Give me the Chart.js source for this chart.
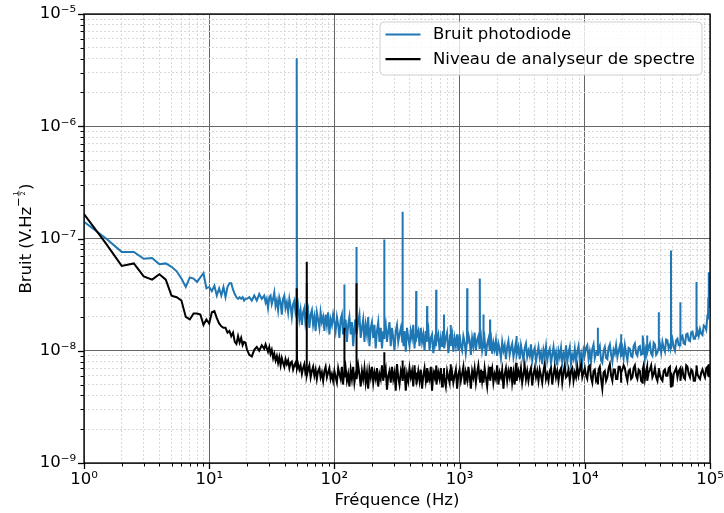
<!DOCTYPE html>
<html>
<head>
<meta charset="utf-8">
<script src="https://cdn.jsdelivr.net/npm/chart.js@4.4.1/dist/chart.umd.min.js"></script>
<style>
  html, body { margin: 0; padding: 0; background: #fff; }
  #noise { display: block; }
</style>
</head>
<body>
<canvas id="noise" width="724" height="513"></canvas>
<script>
// Noise spectral density, photodiode vs. spectrum-analyser floor (log-log).
// Values in nV/sqrt(Hz), one block per decade;
// the mains line and its harmonics are kept as their own points.

// 1 - 20 Hz, at the analyser's 0.5 Hz step
const lowFreqHz = [
  1, 1.5, 2, 2.5, 3, 3.5, 4, 4.5, 5, 5.5, 6, 6.5, 7, 7.5, 8, 8.5, 9, 9.5, 10, 10.5,
  11, 11.5, 12, 12.5, 13, 13.5, 14, 14.5, 15, 15.5, 16, 16.5, 17, 17.5, 18, 18.5, 19, 19.5, 20,
];
const lowPhotodiodeNV = [
  141, 100, 76, 76, 66, 67, 59, 60, 56, 51, 44, 37, 45, 44, 41, 45, 49, 36, 37, 34,
  38, 31, 36, 31, 37, 30, 37, 40, 40, 35, 32, 30, 29, 30, 29, 30, 28, 29, 29,
];
const lowAnalyseurNV = [
  165, 90, 57, 60, 46, 43, 48, 43, 31, 30, 28, 20, 19, 21.5, 21.5, 21, 17, 19, 17.5, 22,
  22.5, 19.5, 17.5, 16.5, 16, 16, 14.5, 15, 13.5, 14.5, 12, 11.5, 13.5, 11.8, 13, 11.2, 12, 11.8, 10.3,
];

// 20 - 100 Hz (50 Hz and 60 Hz lines)
const tensFreqHz = [
  20.9, 21.9, 22.9, 24, 25.1, 26.3, 27.5, 28.2, 28.8, 29.5,
  30.2, 30.9, 31.6, 32.4, 33.1, 33.9, 34.7, 35.5, 36.3, 37.2,
  38, 38.9, 39.8, 40.7, 41.7, 42.7, 43.7, 44.7, 45.7, 46.8,
  47.9, 48.9, 49.7, 50, 50.3, 51.3, 52.5, 53.7, 55, 56.2,
  57.5, 58.6, 59.7, 60, 60.3, 61.7, 63.1, 64.6, 66.1, 67.6,
  69.2, 70.8, 72.4, 74.1, 75.9, 77.6, 79.4, 81.3, 83.2, 85.1,
  87.1, 89.1, 91.2, 93.3, 95.5, 97.7,
];
const tensPhotodiodeNV = [
  30, 28, 31, 28, 32, 29, 31, 27, 29, 24,
  30, 31, 26, 29, 33, 25, 28, 23, 30, 27,
  21, 29, 31, 24, 27, 22, 29, 25, 20, 26,
  28, 22, 24, 4030, 21, 25, 19, 23, 17, 22,
  24, 18, 21, 40, 20, 23, 16, 21, 23, 17,
  20, 15, 22, 19, 16, 22, 18, 20, 15, 21,
  17, 22, 14, 19, 17, 21,
];
const tensAnalyseurNV = [
  9.2, 8.9, 10.2, 10.8, 10, 11.2, 10.4, 11.4, 10.6, 9.8,
  10.8, 9.4, 10.2, 8.6, 9.4, 8.2, 9, 7.8, 8.8, 7.4,
  8.6, 7.8, 7.2, 8.4, 7.6, 8.2, 7, 7.8, 8, 6.8,
  7.4, 7.8, 7.2, 36, 7, 7.6, 6.8, 7.4, 6.2, 7,
  7.6, 6.4, 6.8, 62, 6, 6.8, 7.4, 5.8, 6.6, 7.2,
  6, 6.8, 5.6, 6.6, 7, 5.8, 6.4, 5.4, 6.6, 7.2,
  5.8, 6.4, 7, 5.6, 6.2, 5.4,
];

// 100 Hz - 1 kHz (harmonics at 120, 150, 250 ... 850 Hz)
const hundredsFreqHz = [
  100, 102.3, 104.7, 107.2, 109.6, 112.2, 114.8, 117.2, 119.5, 120,
  120.5, 123, 125.9, 128.8, 131.8, 134.9, 138, 141.3, 144.5, 147,
  149.5, 150, 150.5, 154.9, 158.5, 162.2, 166, 169.8, 173.8, 177.8,
  182, 186.2, 190.5, 195, 199.5, 204.2, 208.9, 213.8, 218.8, 223.9,
  229.1, 234.4, 239.9, 245.5, 249, 250, 251, 257, 263, 269.2,
  275.4, 281.8, 288.4, 295.1, 302, 309, 316.2, 323.6, 331.1, 339.6,
  348.5, 350, 351.5, 357, 363.1, 371.5, 380.2, 389, 398.1, 407.4,
  416.9, 426.6, 436.5, 442, 448, 450, 452, 467.7, 478.6, 489.8,
  501.2, 512.9, 524.8, 537, 547.5, 550, 552.5, 563.5, 575.4, 588.8,
  602.6, 616.6, 631, 640, 647, 650, 653, 676.1, 691.8, 707.9,
  724.4, 735, 747, 750, 753, 776.2, 794.3, 812.8, 831.8, 840,
  847, 850, 853, 871, 891.3, 912, 933.3, 955, 977.2,
];
const hundredsPhotodiodeNV = [
  18, 15, 20, 17, 13, 19, 21, 14, 17, 39,
  15, 19, 12, 17, 20, 14, 18, 11, 16, 19,
  15, 84, 14, 18, 21, 13, 16, 19, 12, 17,
  14, 20, 11, 16, 18, 13, 17, 10.5, 15, 18,
  12, 16, 10.5, 15, 13, 98, 14, 17, 12, 15,
  18, 11, 16, 13, 10, 15, 17, 12, 14, 16,
  12, 173, 14, 11, 15, 9.8, 16, 13, 11, 15,
  13, 17, 10.5, 14, 12, 34, 13, 15, 11, 16,
  12, 14, 10, 15, 12, 25, 13, 15, 10, 13,
  14, 9.5, 12, 14, 11, 35, 12, 14, 10, 13,
  11, 15, 12, 21, 10.5, 13, 14.5, 9.5, 12, 14,
  11, 17, 12, 14, 9.8, 13, 11, 14, 10,
];
const hundredsAnalyseurNV = [
  6.6, 5.8, 5.2, 7, 6.2, 5.6, 7.2, 5, 6.4, 16,
  5.8, 7, 5.4, 6.2, 4.8, 6.8, 5.6, 7.2, 5.2, 6,
  6.6, 40, 5.6, 7.4, 6.2, 4.8, 6.6, 5.6, 7, 5.2,
  6.4, 4.6, 6.8, 5.8, 7.2, 5.2, 6.4, 5.6, 7, 4.8,
  6.2, 5.6, 7.4, 5.4, 6.2, 9.7, 5.8, 6.8, 4.5, 6,
  6.6, 5.2, 7.2, 5.6, 6.4, 4.4, 7.6, 5.8, 5, 6.6,
  5.8, 8.2, 5.4, 6.4, 6.8, 4.4, 6.2, 5.4, 7, 5.8,
  6.6, 4.8, 7.4, 6, 5.6, 6.4, 5, 6.6, 5.4, 6.8,
  4.6, 6, 7, 5.4, 6.4, 7, 5.2, 6.2, 5.6, 7.2,
  4.4, 6.4, 5.8, 6.8, 5.4, 7.4, 5, 6.4, 5.6, 7,
  4.8, 6.2, 5.6, 7, 5.8, 4.8, 6.6, 5.8, 5.2, 6.8,
  6, 7.6, 5.4, 6.4, 5.2, 6, 6.8, 4.6, 6.2,
];

// 1 kHz - 10 kHz
const kiloFreqHz = [
  1000, 1023, 1047, 1072, 1096, 1120, 1145, 1150, 1155, 1175,
  1202, 1230, 1259, 1288, 1318, 1349, 1380, 1412, 1444, 1450,
  1456, 1485, 1514, 1545, 1550, 1555, 1585, 1622, 1660, 1700,
  1744, 1750, 1756, 1788, 1820, 1862, 1905, 1950, 1995, 2042,
  2089, 2138, 2188, 2239, 2291, 2344, 2399, 2455, 2512, 2570,
  2630, 2692, 2754, 2800, 2842, 2850, 2858, 2951, 3020, 3090,
  3162, 3236, 3311, 3388, 3467, 3548, 3631, 3715, 3802, 3890,
  3981, 4074, 4169, 4266, 4365, 4467, 4571, 4677, 4786, 4898,
  5012, 5129, 5248, 5370, 5495, 5623, 5754, 5888, 6026, 6166,
  6310, 6457, 6607, 6761, 6918, 7079, 7244, 7413, 7586, 7762,
  7943, 8128, 8318, 8511, 8710, 8913, 9120, 9333, 9550, 9772,
];
const kiloPhotodiodeNV = [
  14, 11, 10, 13.5, 12, 9.5, 12, 36, 11.5, 14,
  12.5, 9.2, 13, 11, 14.5, 10, 12.5, 13.5, 10.5, 44,
  11, 13, 10, 11.5, 21, 10.5, 12.5, 9, 11.5, 12.8,
  10, 19, 11, 12.5, 9.4, 11.8, 10.2, 12.4, 9, 11.6,
  10.4, 8.6, 12, 10, 11.2, 8.4, 10.8, 12.2, 9.2, 10.6,
  11.6, 8.8, 10.2, 11.4, 9.6, 13.5, 9.2, 10.8, 8.4, 11.2,
  9.6, 8.2, 10.6, 11.6, 8.8, 10, 9, 11.4, 8.2, 9.8,
  10.6, 8, 9.4, 10.8, 8.6, 9.6, 7.6, 10.2, 9, 11,
  8.2, 9.6, 10.4, 7.8, 9.2, 10.8, 8.4, 9.6, 7.4, 10,
  8.8, 10.6, 7.8, 9.4, 8.6, 11.2, 8, 9.6, 10.8, 7.6,
  9.2, 8.4, 10.4, 8, 9.8, 11, 8.2, 9.4, 7.8, 10.2,
];
const kiloAnalyseurNV = [
  6.8, 5.4, 6.2, 7.2, 5, 6.4, 5.6, 6.6, 5.2, 7.2,
  6, 4.6, 6.6, 5.8, 7, 5.2, 6.4, 7.4, 5.6, 6,
  5.2, 6.8, 5.4, 6.6, 6.2, 5.2, 7, 5.8, 4.8, 6.6,
  5.6, 7.2, 5.4, 6.4, 7, 5.2, 6.2, 5.6, 7.4, 5,
  6.4, 5.8, 6.8, 4.6, 6.2, 7, 5.4, 6.6, 5.8, 7.2,
  5.2, 6.4, 5, 6.8, 6.2, 7.8, 5.4, 6.6, 5.8, 7,
  5.2, 6.2, 7.4, 5.6, 6.6, 5.4, 6.4, 7, 4.9, 6.2,
  7, 5.8, 6.6, 5.4, 6.8, 6, 5.2, 6.6, 7.6, 5.6,
  6.2, 5.4, 6.6, 7, 5, 6.2, 7.2, 5.8, 6.6, 5.4,
  6.6, 7, 5.2, 6.4, 7.4, 5.8, 6, 6.8, 5.4, 6.6,
  7, 5.4, 6.4, 5.8, 7.2, 6, 6.8, 7.6, 5.8, 6.4,
];

// 10 kHz - 100 kHz
const tenKiloFreqHz = [
  10000, 10230, 10470, 10720, 10960, 11220, 11480, 11750, 12020, 12300,
  12660, 12700, 12740, 12900, 13180, 13490, 13800, 14130, 14450, 14790,
  15140, 15490, 15850, 16220, 16600, 16980, 17380, 17780, 18200, 18620,
  19050, 19460, 19500, 19540, 19950, 20420, 20890, 21380, 21880, 22390,
  22910, 23440, 23990, 24550, 25120, 25700, 26300, 26920, 27540, 28180,
  28950, 29000, 29050, 29510, 30200, 30900, 31450, 31500, 31550, 32360,
  33110, 33880, 34670, 35480, 36310, 37150, 38020, 38950, 39000, 39050,
  39810, 40740, 41690, 42660, 43650, 44670, 45710, 46770, 47860, 48700,
  48800, 48900, 50120, 51290, 52480, 53700, 54950, 56230, 57950, 58000,
  58050, 59160, 60260, 61660, 63100, 64570, 66070, 67610, 69180, 70790,
  72440, 74130, 75860, 77950, 78000, 78050, 79430, 81280, 83180, 85110,
  87100, 89130, 91200, 93330, 95500, 96300, 97000, 97600, 98000, 98500,
  99000, 99500, 100000,
];
const tenKiloPhotodiodeNV = [
  9.2, 10.6, 11.2, 8.4, 9.8, 8, 10.4, 11.4, 8.6, 9.6,
  10, 16, 9, 10.2, 11, 8.2, 7.8, 10, 10.8, 8.6,
  8.4, 10.6, 11.4, 9.2, 8, 10.2, 9.4, 11.2, 8.8, 10,
  11, 9, 14, 9.6, 10.6, 8.6, 11.2, 9.4, 8.2, 10.6,
  10.4, 9, 8.8, 11, 11.6, 9.4, 9, 10.8, 11, 9.2,
  9.4, 13.7, 10, 11.2, 8.6, 10.8, 10.4, 13.7, 9.6, 10.8,
  11.6, 9.4, 9, 11.8, 11.4, 9.2, 9.6, 10.8, 22, 10.2,
  11.4, 9.6, 12, 10.6, 9.8, 12.6, 12.4, 10.4, 11.2, 10.6,
  78, 11, 12.6, 10.8, 10, 12.4, 12.8, 11.2, 11.2, 27,
  12, 13.2, 13.6, 11.6, 11.4, 14, 14.2, 12.4, 12.2, 14.6,
  14.8, 12.8, 12.8, 14.6, 41, 13.4, 15.2, 13.6, 15.6, 14.2,
  13.8, 16.8, 16.4, 15.4, 21, 19, 30, 24, 50, 36,
  32, 40, 45,
];
const tenKiloAnalyseurNV = [
  7, 6, 5.6, 7.2, 7.4, 5.8, 5.2, 6.6, 6.8, 5.4,
  5.8, 6.4, 5, 6.8, 7.2, 5.6, 4.6, 6.4, 6.6, 5.4,
  5.8, 7, 7.6, 6, 5.4, 6.8, 6.8, 5.6, 5.6, 7.2,
  7.2, 6.2, 5.2, 6.4, 6.8, 7.4, 7, 6, 5.4, 6.6,
  6.8, 5.6, 5.8, 7, 7.4, 6, 5.6, 6.8, 6.6, 5.4,
  5.2, 6, 6.8, 7.4, 5.6, 6.6, 7.2, 6, 5.4, 6.4,
  6.8, 7.4, 5.8, 6.2, 7, 5.8, 5.4, 6.6, 5.8, 7,
  6.2, 5.6, 5.4, 6.6, 6.8, 6, 6, 7, 7.2, 4.8,
  5.6, 6.4, 4.8, 6.2, 6.6, 7, 5.8, 6.6, 7, 6.2,
  5.4, 6.4, 6.8, 5.8, 5.6, 7.4, 7.2, 6.2, 5.8, 6.8,
  6.6, 5.4, 5.4, 6.8, 6, 7.4, 6.2, 5.8, 5.6, 6.4,
  6.8, 6.2, 5.8, 7, 7.2, 6.2, 6, 6.8, 7.6, 6.4,
  5.8, 6.2, 6.6,
];

// Axis decades and their labels, as printed on the original.
const xDecades = [1, 10, 100, 1000, 10000, 100000];
const xTickLabels = ["10⁰", "10¹", "10²", "10³", "10⁴", "10⁵"];
const yDecades = [1e-9, 1e-8, 1e-7, 1e-6, 1e-5];
const yTickLabels = ["10⁻⁹", "10⁻⁸", "10⁻⁷", "10⁻⁶", "10⁻⁵"];
const minorSteps = [2, 3, 4, 5, 6, 7, 8, 9];

const FONT = "DejaVu Sans";
const FS = 16.5;

const freqHz = [...lowFreqHz, ...tensFreqHz, ...hundredsFreqHz, ...kiloFreqHz, ...tenKiloFreqHz];
const photodiodeNV = [
  ...lowPhotodiodeNV, ...tensPhotodiodeNV, ...hundredsPhotodiodeNV, ...kiloPhotodiodeNV, ...tenKiloPhotodiodeNV,
];
const analyseurNV = [
  ...lowAnalyseurNV, ...tensAnalyseurNV, ...hundredsAnalyseurNV, ...kiloAnalyseurNV, ...tenKiloAnalyseurNV,
];
if (photodiodeNV.length !== freqHz.length || analyseurNV.length !== freqHz.length) {
  console.error("length mismatch", freqHz.length, photodiodeNV.length, analyseurNV.length);
}

// nV/sqrt(Hz) -> V/sqrt(Hz) points for the log-log line
const toPoints = (vals) => freqHz.map((f, i) => ({ x: f, y: vals[i] * 1e-9 }));

// One major tick per decade plus the 2..9 minors in between.
function decadeTicks(decades) {
  const ticks = [];
  decades.forEach((d, i) => {
    ticks.push({ value: d, major: true });
    if (i < decades.length - 1) {
      for (const m of minorSteps) ticks.push({ value: d * m, major: false });
    }
  });
  return ticks;
}

function decadeLabel(decades, labels, value) {
  const i = decades.findIndex((d) => Math.abs(Math.log10(d) - Math.log10(value)) < 1e-6);
  return i < 0 ? "" : labels[i];
}

// matplotlib-like grid: dark solid majors, pale dotted minors
const gridOpts = {
  drawTicks: false,
  color: (c) => (c.tick && c.tick.major ? "#666666" : "#d9d9d9"),
  lineWidth: 1,
};
const borderOpts = {
  display: false,
  dash: (c) => (c.tick && c.tick.major ? [] : [2, 2]),
};

// Spines on all four sides and outward tick marks (long majors, short minors).
const axesFrame = {
  id: "axesFrame",
  afterDatasetsDraw(chart) {
    const { ctx, chartArea: a, scales } = chart;
    ctx.save();
    ctx.strokeStyle = "#000";
    for (const t of scales.x.ticks) {
      const px = Math.round(scales.x.getPixelForValue(t.value)) + 0.5;
      ctx.lineWidth = t.major ? 1.3 : 1;
      ctx.beginPath();
      ctx.moveTo(px, a.bottom);
      ctx.lineTo(px, a.bottom + (t.major ? 6 : 3.5));
      ctx.stroke();
    }
    for (const t of scales.y.ticks) {
      const py = Math.round(scales.y.getPixelForValue(t.value)) + 0.5;
      ctx.lineWidth = t.major ? 1.3 : 1;
      ctx.beginPath();
      ctx.moveTo(a.left, py);
      ctx.lineTo(a.left - (t.major ? 6 : 3.5), py);
      ctx.stroke();
    }
    ctx.lineWidth = 1.3;
    ctx.strokeRect(a.left, a.top, a.right - a.left, a.bottom - a.top);
    ctx.restore();
  },
};

// Y title with the V.Hz^(-1/2) exponent written as a small stacked fraction.
const yTitle = {
  id: "yTitle",
  afterDraw(chart) {
    const { ctx, chartArea: a } = chart;
    const main = "Bruit (V.Hz";
    const big = `${FS}px "${FONT}"`;
    const mid = `11.5px "${FONT}"`;
    const tiny = `6.5px "${FONT}"`;
    ctx.save();
    ctx.font = big;
    const w1 = ctx.measureText(main).width;
    const w4 = ctx.measureText(")").width;
    ctx.font = mid;
    const w2 = ctx.measureText("−").width;
    ctx.font = tiny;
    const wd = ctx.measureText("1").width;
    const w3 = wd + 3;
    const total = w1 + w2 + w3 + w4;
    ctx.translate(30.5, (a.top + a.bottom) / 2);
    ctx.rotate(-Math.PI / 2);
    ctx.fillStyle = "#000";
    ctx.textAlign = "left";
    ctx.textBaseline = "alphabetic";
    let x = -total / 2;
    ctx.font = big;
    ctx.fillText(main, x, 0);
    x += w1;
    ctx.font = mid;
    ctx.fillText("−", x, -8.5);
    x += w2;
    ctx.font = tiny;
    ctx.fillText("1", x + 1.5, -13);
    ctx.fillText("2", x + 1.5, -5.5);
    ctx.fillRect(x + 0.8, -12, wd + 1.4, 0.8);
    x += w3;
    ctx.font = big;
    ctx.fillText(")", x, 0);
    ctx.restore();
  },
};

// Legend box in the top-right corner of the axes, like matplotlib's "best".
const legendBox = {
  id: "legendBox",
  afterDraw(chart) {
    const { ctx, chartArea: a } = chart;
    const sets = chart.data.datasets;
    ctx.save();
    ctx.font = `${FS}px "${FONT}"`;
    const textW = Math.max(...sets.map((d) => ctx.measureText(d.label).width));
    const w = 5.5 + 35 + 12.5 + textW + 7;
    const h = 53;
    const x = a.right - 8 - w;
    const y = a.top + 8;
    const r = 4;
    ctx.beginPath();
    ctx.moveTo(x + r, y);
    ctx.arcTo(x + w, y, x + w, y + h, r);
    ctx.arcTo(x + w, y + h, x, y + h, r);
    ctx.arcTo(x, y + h, x, y, r);
    ctx.arcTo(x, y, x + w, y, r);
    ctx.closePath();
    ctx.fillStyle = "rgba(255,255,255,0.8)";
    ctx.fill();
    ctx.strokeStyle = "#d0d0d0";
    ctx.lineWidth = 1;
    ctx.stroke();
    sets.forEach((d, i) => {
      const ly = y + 12.5 + i * 24.7;
      ctx.beginPath();
      ctx.moveTo(x + 5.5, ly);
      ctx.lineTo(x + 40.5, ly);
      ctx.strokeStyle = d.borderColor;
      ctx.lineWidth = 2.2;
      ctx.stroke();
      ctx.fillStyle = "#000";
      ctx.textBaseline = "middle";
      ctx.fillText(d.label, x + 53, ly + 0.5);
    });
    ctx.restore();
  },
};

Chart.defaults.font.family = FONT;
Chart.defaults.color = "#000";

new Chart(document.getElementById("noise"), {
  type: "line",
  data: {
    datasets: [
      {
        label: "Bruit photodiode",
        data: toPoints(photodiodeNV),
        borderColor: "#1f77b4",
        borderWidth: 2,
        pointRadius: 0,
        tension: 0,
        order: 2, // drawn under the analyser trace
      },
      {
        label: "Niveau de analyseur de spectre",
        data: toPoints(analyseurNV),
        borderColor: "#000000",
        borderWidth: 2,
        pointRadius: 0,
        tension: 0,
        order: 1,
      },
    ],
  },
  options: {
    responsive: false,
    devicePixelRatio: 1,
    animation: false,
    events: [],
    layout: { padding: { top: 14, right: 14, left: 0, bottom: 0 } },
    plugins: { legend: { display: false }, tooltip: { enabled: false } },
    scales: {
      x: {
        type: "logarithmic",
        min: 1,
        max: 100000,
        afterBuildTicks: (s) => { s.ticks = decadeTicks(xDecades); },
        afterFit: (s) => { s.height = 50; s.paddingLeft = 0; s.paddingRight = 0; },
        ticks: {
          autoSkip: false,
          maxRotation: 0,
          padding: 7,
          font: { size: FS },
          callback: (v) => decadeLabel(xDecades, xTickLabels, v),
        },
        grid: gridOpts,
        border: borderOpts,
        title: {
          display: true,
          text: "Fréquence (Hz)",
          font: { size: FS },
          padding: { top: 0, bottom: 2 },
        },
      },
      y: {
        type: "logarithmic",
        min: 1e-9,
        max: 1e-5,
        afterBuildTicks: (s) => { s.ticks = decadeTicks(yDecades); },
        afterFit: (s) => { s.width = 84; s.paddingTop = 0; s.paddingBottom = 0; },
        ticks: {
          autoSkip: false,
          padding: 8,
          font: { size: FS },
          callback: (v) => decadeLabel(yDecades, yTickLabels, v),
        },
        grid: gridOpts,
        border: borderOpts,
      },
    },
  },
  plugins: [axesFrame, yTitle, legendBox],
});
</script>
</body>
</html>
